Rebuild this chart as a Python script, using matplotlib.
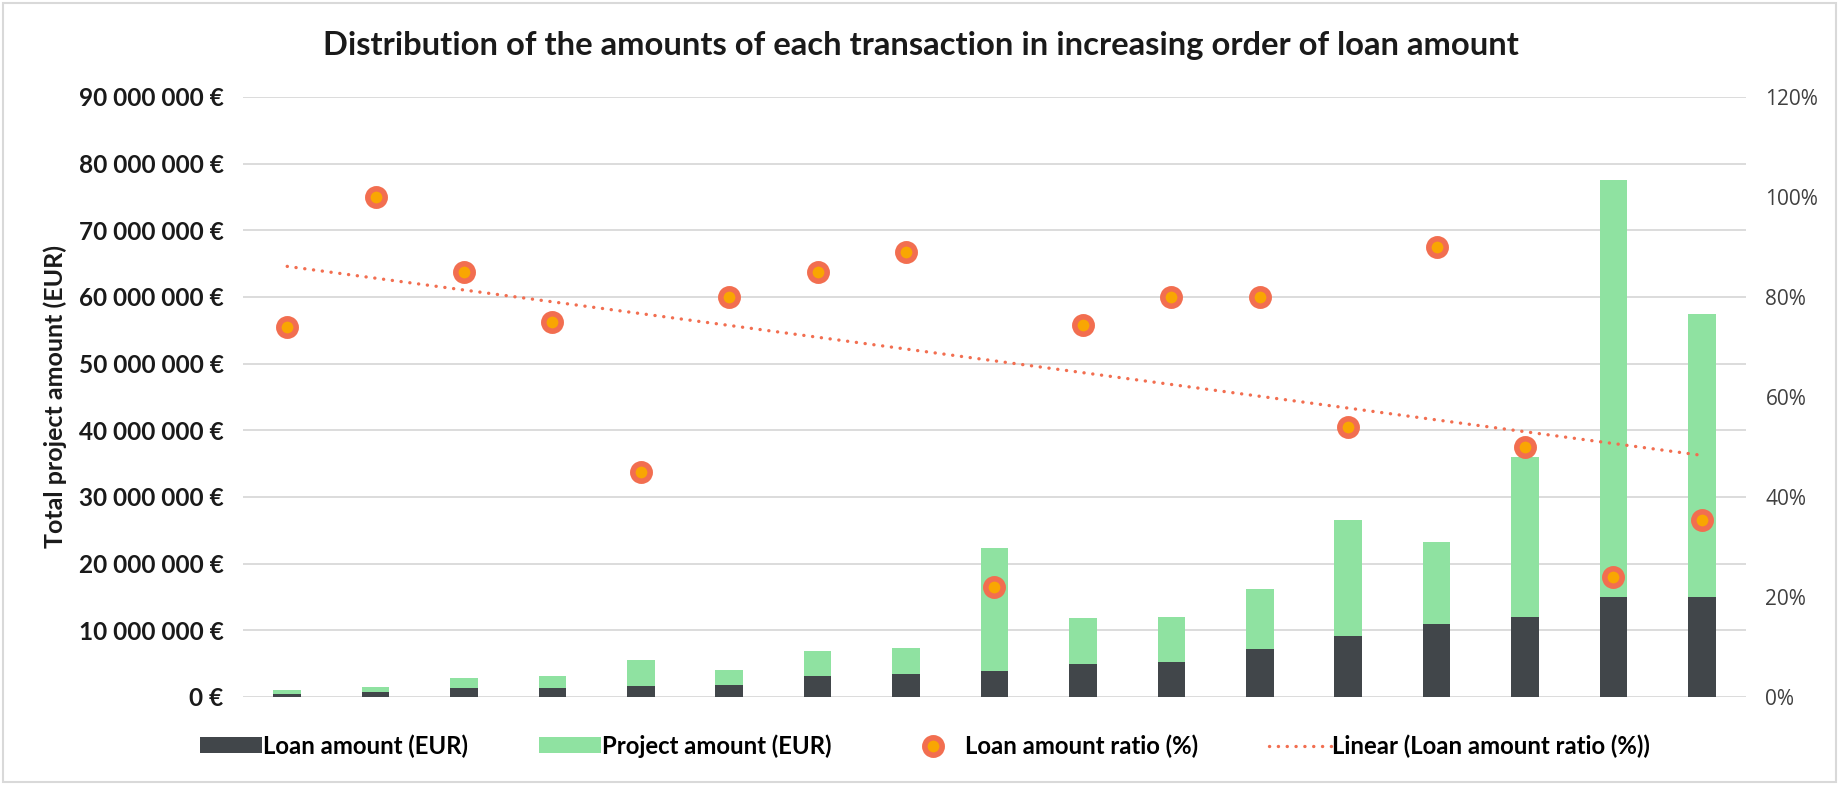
import numpy as np
import matplotlib
matplotlib.use("Agg")
import matplotlib.pyplot as plt
from matplotlib.lines import Line2D
from matplotlib.patches import Patch, Rectangle
from matplotlib.ticker import FuncFormatter, FixedLocator

# ---- data (EUR millions / %) ----
transactions = list(range(1, 18))
loan_amount_m = [0.47, 0.75, 1.35, 1.35, 1.72, 1.78, 3.2, 3.5, 3.85, 5.0, 5.3, 7.15, 9.2, 10.95, 11.95, 15.0, 15.0]
project_amount_m = [0.63, 0.75, 1.55, 1.85, 3.85, 2.22, 3.75, 3.9, 18.45, 6.85, 6.65, 9.0, 17.3, 12.25, 24.0, 62.6, 42.45]
loan_ratio_pct = [74, 100, 85, 75, 45, 80, 85, 89, 22, 74.4, 80, 80, 54, 90, 50, 24, 35.5]
left_ticks_m = [0, 10, 20, 30, 40, 50, 60, 70, 80, 90]
right_ticks_pct = [0, 20, 40, 60, 80, 100, 120]

title = "Distribution of the amounts of each transaction in increasing order of loan amount"
ylabel = "Total project amount (EUR)"
legend_labels = ["Loan amount (EUR)", "Project amount (EUR)", "Loan amount ratio (%)", "Linear (Loan amount ratio (%))"]

DARK = "#41464A"
GREEN = "#8FE2A1"
SALMON = "#F26E50"
AMBER = "#F9A602"
GRID = "#D9D9D9"
BOLD_FONT = ["Lato", "DejaVu Sans"]

fig = plt.figure(figsize=(18.39, 7.85), dpi=100)
ax = fig.add_axes([243 / 1839, 1 - 697 / 785, (1746 - 243) / 1839, (697 - 97) / 785])
ax2 = ax.twinx()

x = np.array(transactions, dtype=float)
loan = np.array(loan_amount_m) * 1e6
proj = np.array(project_amount_m) * 1e6
w = 0.3125
ax.bar(x, loan, width=w, color=DARK, zorder=3)
ax.bar(x, proj, width=w, bottom=loan, color=GREEN, zorder=3)

ax.set_xlim(0.5, 17.5)
ax.set_ylim(0, 90e6)
ax.yaxis.set_major_locator(FixedLocator([v * 1e6 for v in left_ticks_m]))
ax.yaxis.set_major_formatter(FuncFormatter(lambda v, p: f"{int(round(v)):,} €".replace(",", " ")))
ax.grid(axis="y", color=GRID, linewidth=1.3, zorder=0)
ax.set_axisbelow(True)
ax.set_xticks([])
for s in ax.spines.values():
    s.set_visible(False)
ax.tick_params(axis="y", length=0, pad=14, labelsize=17.6, labelcolor="#1a1a1a")
for t in ax.get_yticklabels():
    t.set_fontfamily(BOLD_FONT)
    t.set_fontweight("bold")

# ratio on secondary axis
ratio = np.array(loan_ratio_pct, dtype=float)
coef = np.polyfit(x, ratio, 1)
trend = np.polyval(coef, x)
ax2.plot(x, trend, color=SALMON, linewidth=2.4, linestyle=(0, (0.05, 2.6)),
         dash_capstyle="round", zorder=4)
ax2.plot(x, ratio, linestyle="none", marker="o", markersize=12.5,
         markerfacecolor=AMBER, markeredgecolor=SALMON, markeredgewidth=4, zorder=5)
ax2.set_ylim(0, 120)
ax2.yaxis.set_major_locator(FixedLocator(right_ticks_pct))
ax2.yaxis.set_major_formatter(FuncFormatter(lambda v, p: f"{int(v)}%"))
for s in ax2.spines.values():
    s.set_visible(False)
ax2.tick_params(axis="y", length=0, pad=14, labelsize=15, labelcolor="#404040")
for t in ax2.get_yticklabels():
    t.set_fontfamily(["Open Sans", "DejaVu Sans"])

# title and y label
fig.text(921 / 1839, 1 - 45 / 785, title, ha="center", va="center",
         fontsize=23.6, fontweight="bold", fontfamily=BOLD_FONT, color="#1a1a1a")
fig.text(55 / 1839, 1 - 396 / 785, ylabel, ha="center", va="center", rotation=90,
         fontsize=18, fontweight="bold", fontfamily=BOLD_FONT, color="#1a1a1a")

# legend
handles = [
    Patch(facecolor=DARK),
    Patch(facecolor=GREEN),
    Line2D([], [], linestyle="none", marker="o", markersize=12.5,
           markerfacecolor=AMBER, markeredgecolor=SALMON, markeredgewidth=4),
    Line2D([], [], color=SALMON, linewidth=2.4, linestyle=(0, (0.05, 2.6)), dash_capstyle="round"),
]
leg = fig.legend(handles, legend_labels, loc="center", bbox_to_anchor=(925 / 1839, 1 - 746 / 785),
                 ncol=4, frameon=False, handlelength=2.6, handleheight=0.65, handletextpad=0.05,
                 columnspacing=2.95, prop={"family": BOLD_FONT, "weight": "bold", "size": 17.2})

# outer border
fig.patches.append(Rectangle((3 / 1839, 3 / 785), 1 - 6 / 1839, 1 - 6 / 785, transform=fig.transFigure,
                             fill=False, edgecolor=GRID, linewidth=1.5))

fig.savefig("out.png", dpi=100)
